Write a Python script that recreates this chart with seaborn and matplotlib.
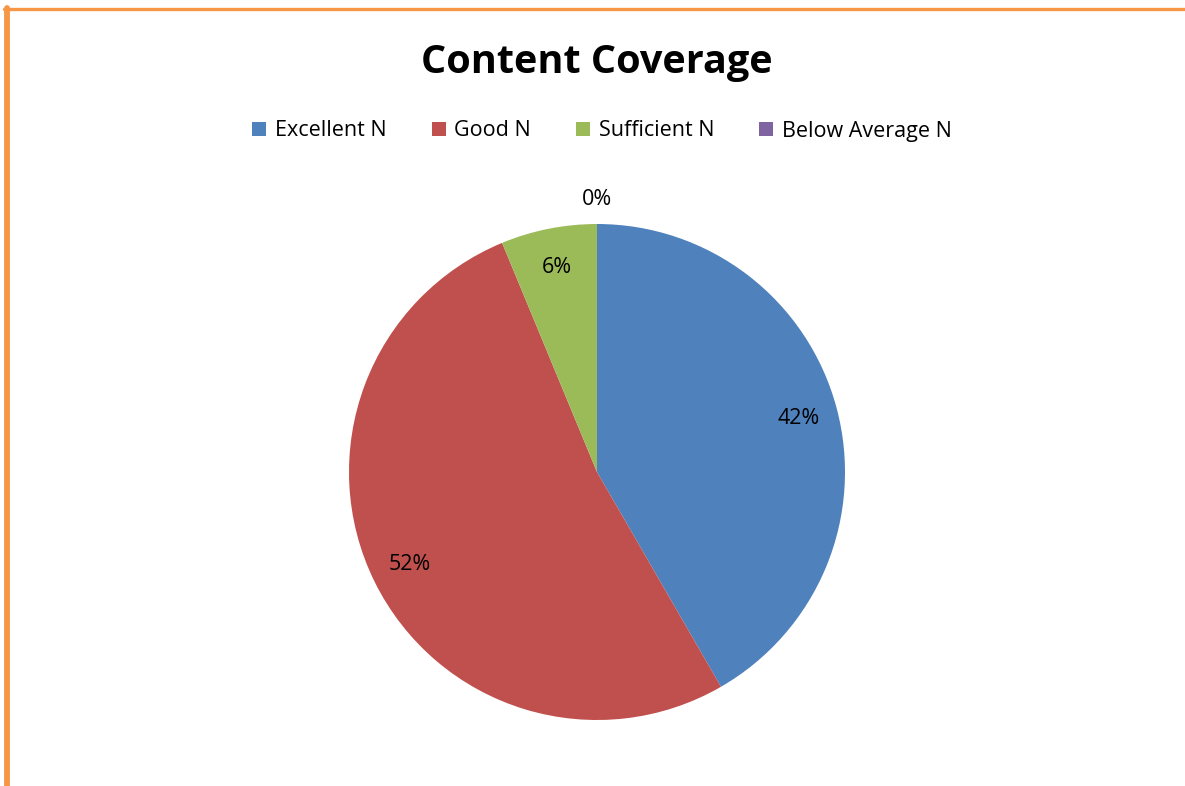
import matplotlib
matplotlib.use("Agg")
import matplotlib.pyplot as plt
import seaborn as sns
import numpy as np
from matplotlib.lines import Line2D
from matplotlib.patches import Patch

categories = ["Excellent N", "Good N", "Sufficient N", "Below Average N"]
counts = [20, 25, 3, 0]
colors = ["#4F81BD", "#C0504D", "#9BBB59", "#8064A2"]

sns.set_theme(style="white")
plt.rcParams['font.family'] = ['Open Sans', 'DejaVu Sans']
plt.rcParams['text.color'] = 'black'

W, H, DPI = 1185, 786, 100
fig = plt.figure(figsize=(W / DPI, H / DPI), dpi=DPI)

# pie axes, centred on the pie centre in the reference
cx, cy, r = 597, 472, 248
half = 300
ax = fig.add_axes([(cx - half) / W, 1 - (cy + half) / H, 2 * half / W, 2 * half / H])
wedges, texts, autotexts = ax.pie(counts, colors=colors, startangle=90, counterclock=False,
                                  radius=1, autopct=lambda p: "%.0f%%" % p, pctdistance=0.84,
                                  textprops={'fontsize': 15.5, 'color': 'black'},
                                  wedgeprops={'linewidth': 0})
lim = half / r
ax.set_xlim(-lim, lim)
ax.set_ylim(-lim, lim)
ax.set_aspect('equal')
ax.axis('off')

# zero slice label sits just outside the pie
for w, t, c in zip(wedges, autotexts, counts):
    if c == 0:
        ang = np.deg2rad((w.theta1 + w.theta2) / 2)
        t.set_position((1.1 * np.cos(ang), 1.1 * np.sin(ang)))

fig.text(cx / W, 1 - 62 / H, "Content Coverage", ha='center', va='center',
         fontsize=28.5, fontweight='bold', color='black')

handles = [Patch(facecolor=c, edgecolor='none') for c in colors]
fig.legend(handles, categories, loc='center', bbox_to_anchor=(602 / W, 1 - 131 / H), ncol=4,
           frameon=False, fontsize=15.5, handlelength=0.65, handleheight=0.65,
           handletextpad=0.4, columnspacing=2.1, labelcolor='black')

# orange frame on top and left
fig.add_artist(Line2D([4 / W, 1], [1 - 9 / H, 1 - 9 / H], color="#F79646", linewidth=2.4,
                      transform=fig.transFigure))
fig.add_artist(Line2D([6.5 / W, 6.5 / W], [0, 1 - 8 / H], color="#F79646", linewidth=4.2,
                      transform=fig.transFigure))

fig.savefig("out.png", dpi=DPI, facecolor='white')
